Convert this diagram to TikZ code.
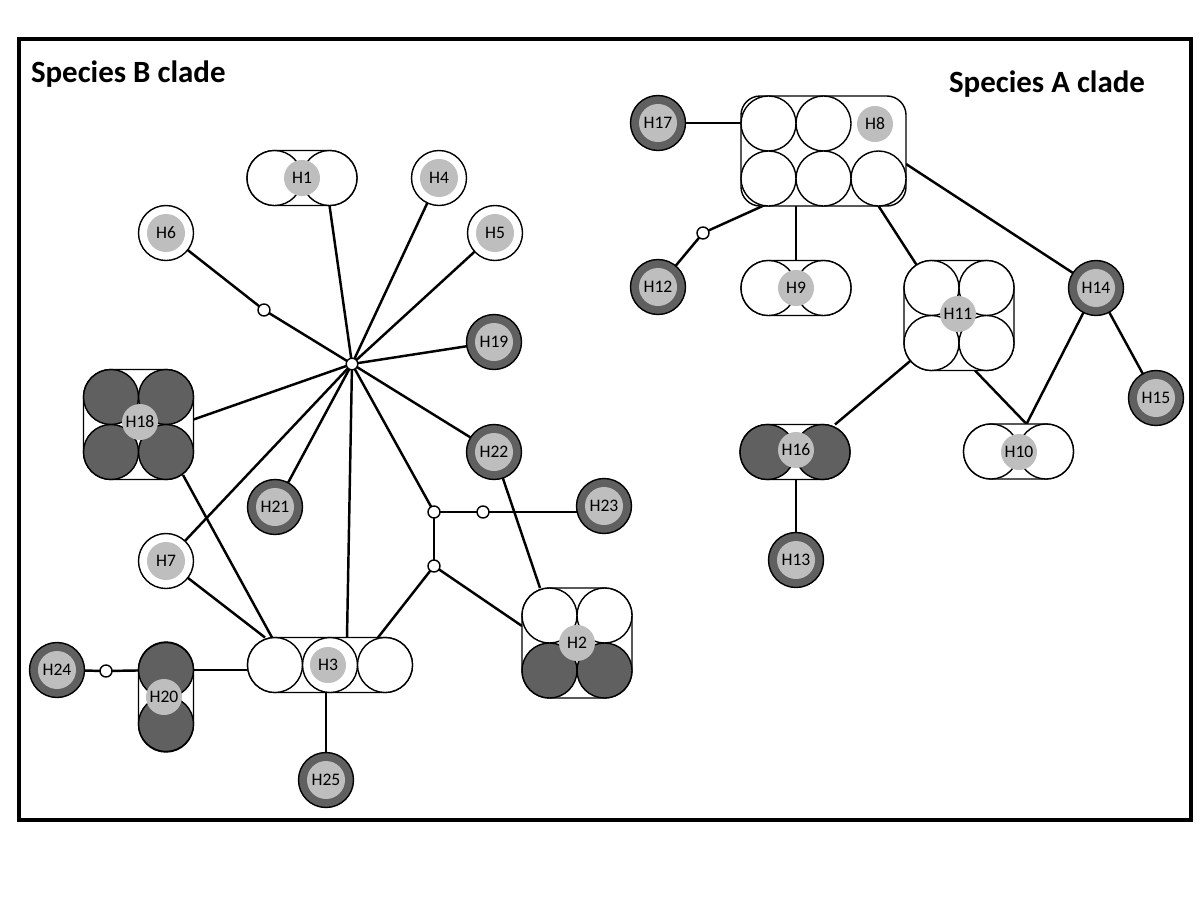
\documentclass[tikz,border=0pt]{standalone}
\usepackage{fontspec}
\setmainfont{Carlito}
\usetikzlibrary{backgrounds,calc}
\definecolor{dk}{RGB}{96,96,96}
\definecolor{lt}{RGB}{190,190,190}
\begin{document}
\begin{tikzpicture}[x=0.025cm,y=-0.025cm,
  every node/.style={inner sep=0pt,outer sep=0pt},
  wnode/.style={circle,draw=black,line width=1pt,fill=white,minimum size=1.375cm},
  dnode/.style={circle,draw=black,line width=1pt,fill=dk,minimum size=1.375cm},
  lab/.style={circle,fill=lt,minimum size=0.95cm,font=\fontsize{12.5}{14}\selectfont},
  glab/.style={circle,fill=lt,minimum size=0.9cm,font=\fontsize{12.5}{14}\selectfont},
  gbox/.style={rectangle,draw=black,line width=1pt,fill=white,rounded corners=0.6875cm},
  med/.style={circle,draw=black,line width=1pt,fill=white,minimum size=0.3cm},
  hubst/.style={circle,draw=black,line width=1pt,fill=white,minimum size=0.29cm},
  link/.style={line width=1.75pt},
  ttl/.style={anchor=base west,font=\bfseries\fontsize{22}{26}\selectfont}
]
\useasboundingbox (0,0) rectangle (1200,900);
\draw[line width=2.5pt] (19,39) rectangle (1191,820);

\node[ttl] (tB) at (31,82) {Species B clade};
\node[ttl] (tA) at (949,92) {Species A clade};

% ---------- Species B ----------
\node[hubst] (hub) at (352,364) {};
\node[med] (m6) at (264,310) {};
\node[med] (j1) at (434,512) {};
\node[med] (m23) at (483,512) {};
\node[med] (j2) at (434,566) {};
\node[med] (m24) at (106,671) {};

\node[wnode] (H6) at (166,233) {};  \node[lab] (H6l) at (H6) {H6};
\node[wnode] (H4) at (439,178) {};  \node[lab] (H4l) at (H4) {H4};
\node[wnode] (H5) at (495,233) {};  \node[lab] (H5l) at (H5) {H5};
\node[dnode] (H19) at (494,342) {}; \node[lab] (H19l) at (H19) {H19};
\node[dnode] (H21) at (275,507) {}; \node[lab] (H21l) at (H21) {H21};
\node[wnode] (H7) at (166,561) {};  \node[lab] (H7l) at (H7) {H7};
\node[dnode] (H22) at (494,452) {}; \node[lab] (H22l) at (H22) {H22};
\node[dnode] (H23) at (604,506) {}; \node[lab] (H23l) at (H23) {H23};
\node[dnode] (H25) at (326,780) {}; \node[lab] (H25l) at (H25) {H25};
\node[dnode] (H24) at (57,670) {};  \node[lab] (H24l) at (H24) {H24};

% H1
\node[gbox,minimum width=2.75cm,minimum height=1.375cm] (H1) at (302,178) {};
\node[wnode] (H1a) at (274.5,178) {};
\node[wnode] (H1b) at (329.5,178) {};
\node[glab] (H1l) at (302,178) {H1};

% H18
\node[gbox,minimum width=2.75cm,minimum height=2.75cm] (H18) at (138.5,424.5) {};
\node[dnode] (H18a) at (111,397) {};
\node[dnode] (H18b) at (166,397) {};
\node[dnode] (H18c) at (111,452) {};
\node[dnode] (H18d) at (166,452) {};
\node[glab] (H18l) at (140,422) {H18};

% H3
\node[gbox,minimum width=4.125cm,minimum height=1.375cm] (H3) at (330,665) {};
\node[wnode] (H3a) at (275,665) {};
\node[wnode] (H3b) at (330,665) {};
\node[wnode] (H3c) at (385,665) {};
\node[glab] (H3l) at (328,665) {H3};

% H20
\node[gbox,minimum width=1.375cm,minimum height=2.75cm] (H20) at (166,697) {};
\node[dnode] (H20a) at (166,670) {};
\node[dnode] (H20b) at (166,724) {};
\node[glab] (H20l) at (164,697) {H20};

% H2
\node[gbox,minimum width=2.75cm,minimum height=2.75cm] (H2) at (577,643) {};
\node[wnode] (H2a) at (549.5,615.5) {};
\node[wnode] (H2b) at (604.5,615.5) {};
\node[dnode] (H2c) at (549.5,670.5) {};
\node[dnode] (H2d) at (604.5,670.5) {};
\node[glab] (H2l) at (577,643) {H2};

% ---------- Species A ----------
\node[med] (m12) at (703,233) {};
\node[dnode] (H17) at (658,123) {}; \node[lab] (H17l) at (H17) {H17};
\node[dnode] (H12) at (658,287) {}; \node[lab] (H12l) at (H12) {H12};
\node[dnode] (H14) at (1096,288) {}; \node[lab] (H14l) at (H14) {H14};
\node[dnode] (H15) at (1156,398) {}; \node[lab] (H15l) at (H15) {H15};
\node[dnode] (H13) at (796,560) {}; \node[lab] (H13l) at (H13) {H13};

% H8
\node[gbox,rounded corners=0.48cm,minimum width=4.125cm,minimum height=2.75cm] (H8) at (823.5,151) {};
\node[wnode] (H8a) at (768.5,123.5) {};
\node[wnode] (H8b) at (823.5,123.5) {};
\node[wnode] (H8c) at (768.5,178.5) {};
\node[wnode] (H8d) at (823.5,178.5) {};
\node[wnode] (H8e) at (878.5,178.5) {};
\node[glab] (H8l) at (875,124) {H8};

% H9
\node[gbox,minimum width=2.75cm,minimum height=1.375cm] (H9) at (796,288) {};
\node[wnode] (H9a) at (768.5,288) {};
\node[wnode] (H9b) at (823.5,288) {};
\node[glab] (H9l) at (796,288) {H9};

% H11
\node[gbox,minimum width=2.75cm,minimum height=2.75cm] (H11) at (959,315.5) {};
\node[wnode] (H11a) at (931.5,288) {};
\node[wnode] (H11b) at (986.5,288) {};
\node[wnode] (H11c) at (931.5,343) {};
\node[wnode] (H11d) at (986.5,343) {};
\node[glab] (H11l) at (958,314) {H11};

% H10
\node[gbox,minimum width=2.75cm,minimum height=1.375cm] (H10) at (1018.5,451.5) {};
\node[wnode] (H10a) at (991,451.5) {};
\node[wnode] (H10b) at (1046,451.5) {};
\node[glab] (H10l) at (1019,452) {H10};

% H16
\node[gbox,minimum width=2.75cm,minimum height=1.375cm] (H16) at (795,452) {};
\node[dnode] (H16a) at (767.5,452) {};
\node[dnode] (H16b) at (822.5,452) {};
\node[glab] (H16l) at (796,450) {H16};

% ---------- connectors ----------
\begin{pgfonlayer}{background}
\coordinate (H3hub) at ($(H3.north)+(17,0)$);
\coordinate (H3j) at ($(H3.north)+(48,0)$);
\coordinate (H3h18) at ($(H3.north)+(-58,0)$);
\coordinate (H3h7) at ($(H3.north)+(-65,0)$);
\coordinate (H2j) at ($(H2.west)+(0,-17)$);
\coordinate (H2t) at ($(H2.north)+(-37,0)$);
\coordinate (H18r) at ($(H18.east)+(0,-5)$);
\coordinate (H18br) at (183,475);
\coordinate (H8r) at ($(H8.east)+(0,13)$);
\coordinate (H10t) at ($(H10.north)+(8,0)$);
\coordinate (H11b0) at ($(H11.south)+(16,0)$);
\coordinate (H16t) at ($(H16.north)+(40,0)$);

\draw[link] (hub) -- (H1b.south);
\draw[link] (hub) -- (H4);
\draw[link] (hub) -- (H5);
\draw[link] (hub) -- (H19);
\draw[link] (hub) -- (m6) -- (H6);
\draw[link] (hub) -- (H18r);
\draw[link] (hub) -- (H21);
\draw[link] (hub) -- (H7);
\draw[link] (hub) -- (H3hub);
\draw[link] (hub) -- (H22);
\draw[link] (hub) -- (j1);
\draw[link] (j1) -- (m23) -- (m23 -| H23.west);
\draw[link] (j1) -- (j2);
\draw[link] (j2) -- (H3j);
\draw[link] (j2) -- (H2j);
\draw[link] (H22) -- (H2t);
\draw[link] (H18br) -- (H3h18);
\draw[link] (H7) -- (H3h7);
\draw[link] (H24) -- (m24) -- (H20a);
\draw[link] (H20a.east) -- (H20a.east -| H3.west);
\draw[link] (H3.south -| H25) -- (H25);

\draw[link] (H17) -- (H17 -| H8.west);
\draw[link] (H8d) -- (m12) -- (H12);
\draw[link] (H9.north) -- (H9.north |- H8.south);
\draw[link] (H8e.south) -- (H11a);
\draw[link] (H8r) -- (H14);
\draw[link] (H11b0) -- (H10t);
\draw[link] (H14) -- (H10t);
\draw[link] (H14) -- (H15);
\draw[link] (H11c) -- (H16t);
\draw[link] (H16.south -| H13) -- (H13);
\end{pgfonlayer}
\end{tikzpicture}
\end{document}
